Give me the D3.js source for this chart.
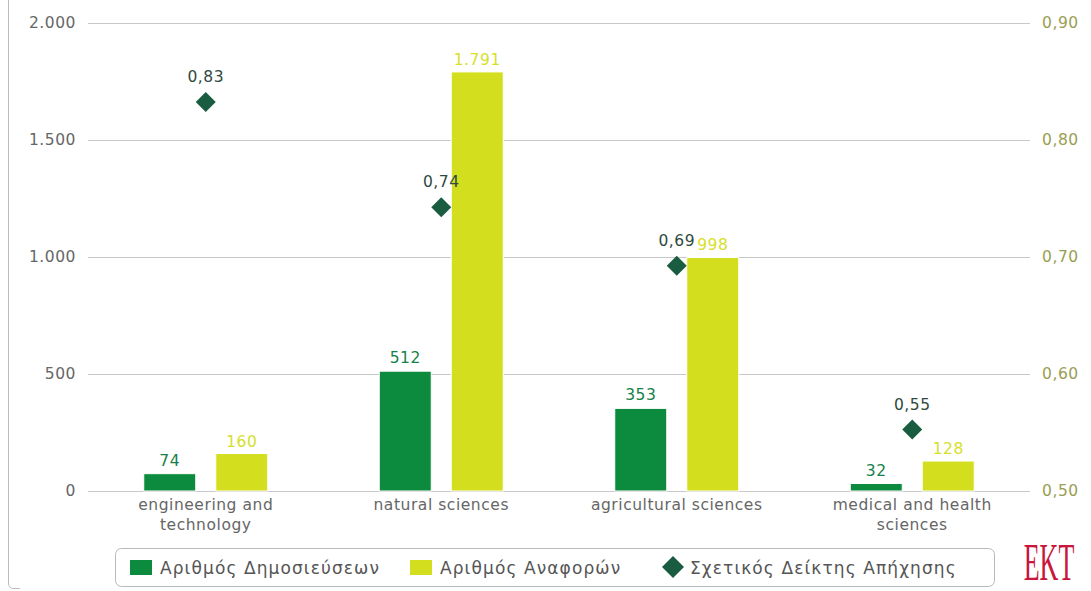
<!DOCTYPE html>
<html><head><meta charset="utf-8">
<script src="https://cdn.jsdelivr.net/npm/d3@7"></script>
<style>body{margin:0;background:#fff;}svg{display:block;font-family:"DejaVu Sans",Verdana,sans-serif;}</style>
</head><body><svg id="c" width="1091" height="591"></svg>
<script>
const categories = [["engineering and","technology"],["natural sciences"],["agricultural sciences"],["medical and health","sciences"]];
const publications = [74, 512, 353, 32];
const citations = [160, 1791, 998, 128];
const relIndex = [0.83, 0.74, 0.69, 0.55];
const leftTicks = [0, 500, 1000, 1500, 2000];
const rightTicks = [0.5, 0.6, 0.7, 0.8, 0.9];
const seriesNames = ["Αριθμός Δημοσιεύσεων","Αριθμός Αναφορών","Σχετικός Δείκτης Απήχησης"];

const C_DARK = "#0c8a3e", C_LIGHT = "#d3df1e", C_DIAM = "#1a5c40", C_GRAY = "#666";
const FS = "15.5px", LS = "0.55px";
const svg = d3.select("#c");
const L = 88, R = 1030, T = 23, B = 491;
const x = d3.scaleBand().domain(d3.range(categories.length)).range([L, R]);
const yL = d3.scaleLinear().domain([0, 2000]).range([B, T]);
const yR = d3.scaleLinear().domain([0.5, 0.9]).range([B, T]);
const fmtL = d => d3.format(",")(d).replace(/,/g, ".");
const fmtR = d => d3.format(".2f")(d).replace(".", ",");

// frame line at left
svg.append("path").attr("d","M8.5,0 V583 Q8.5,588.5 14,588.5 H20").attr("fill","none").attr("stroke","#bbb");

// gridlines
svg.append("g").selectAll("line").data(leftTicks).join("line")
  .attr("x1", L).attr("x2", R).attr("y1", d => Math.round(yL(d))+0.5).attr("y2", d => Math.round(yL(d))+0.5)
  .attr("stroke", "#c8c8c8").attr("stroke-width",1);

// left axis
const gl = svg.append("g").attr("transform", `translate(${L},0)`)
  .call(d3.axisLeft(yL).tickValues(leftTicks).tickFormat(fmtL).tickSize(0).tickPadding(12));
gl.select(".domain").remove();
gl.selectAll("text").attr("fill", C_GRAY).style("font-size",FS).style("letter-spacing",LS).style("font-family","DejaVu Sans");

// right axis
const gr = svg.append("g").attr("transform", `translate(${R},0)`)
  .call(d3.axisRight(yR).tickValues(rightTicks).tickFormat(fmtR).tickSize(0).tickPadding(12));
gr.select(".domain").remove();
gr.selectAll("text").attr("fill", "#9a9e52").style("font-size",FS).style("letter-spacing",LS).style("font-family","DejaVu Sans");

// x category labels
const cx = i => x(i) + x.bandwidth()/2;
const xl = svg.append("g");
categories.forEach((lines, i) => {
  const t = xl.append("text").attr("x", cx(i)).attr("y", 510).attr("text-anchor","middle")
    .attr("fill", C_GRAY).style("font-size",FS).style("letter-spacing",LS);
  lines.forEach((ln, j) => t.append("tspan").attr("x", cx(i)).attr("dy", j ? 20 : 0).text(ln));
});

// bars
const bw = 52, off = 36;
const bars = svg.append("g");
bars.selectAll("rect.p").data(publications).join("rect").attr("class","p")
  .attr("x", (d,i) => cx(i) - off - bw/2).attr("width", bw)
  .attr("y", d => yL(d)).attr("height", d => B - yL(d))
  .attr("fill", C_DARK).attr("stroke","#fff").attr("stroke-width",1);
bars.selectAll("rect.c").data(citations).join("rect").attr("class","c")
  .attr("x", (d,i) => cx(i) + off - bw/2).attr("width", bw)
  .attr("y", d => yL(d)).attr("height", d => B - yL(d))
  .attr("fill", C_LIGHT).attr("stroke","#fff").attr("stroke-width",1);

// bar labels
bars.selectAll("text.p").data(publications).join("text").attr("class","p")
  .attr("x", (d,i) => cx(i) - off).attr("y", d => yL(d) - 8).attr("text-anchor","middle")
  .attr("fill", "#17804a").style("font-size",FS).style("letter-spacing",LS).text(fmtL);
bars.selectAll("text.c").data(citations).join("text").attr("class","c")
  .attr("x", (d,i) => cx(i) + off).attr("y", d => yL(d) - 7).attr("text-anchor","middle")
  .attr("fill", "#d6e02a").style("font-size",FS).style("letter-spacing",LS).text(fmtL);

// diamonds
const ds = 10;
const dg = svg.append("g");
dg.selectAll("path").data(relIndex).join("path")
  .attr("d", (d,i) => { const px = cx(i), py = yR(d) - 3; return `M${px},${py-ds} L${px+ds},${py} L${px},${py+ds} L${px-ds},${py} Z`; })
  .attr("fill", C_DIAM);
dg.selectAll("text").data(relIndex).join("text")
  .attr("x", (d,i) => cx(i)).attr("y", d => yR(d) - 23).attr("text-anchor","middle")
  .attr("fill", "#2f4a40").style("font-size",FS).style("letter-spacing",LS).text(fmtR);

// legend
const lg = svg.append("g");
lg.append("rect").attr("x",115.5).attr("y",548.5).attr("width",879).attr("height",38).attr("rx",6)
  .attr("fill","#fff").attr("stroke","#b8b8b8");
const items = [{x:130, type:"rect", color:C_DARK},{x:410, type:"rect", color:C_LIGHT},{x:662, type:"diamond", color:C_DIAM}];
items.forEach((it, i) => {
  if (it.type === "rect") lg.append("rect").attr("x", it.x).attr("y", 560).attr("width", 22).attr("height", 15).attr("fill", it.color);
  else lg.append("path").attr("d", `M${it.x+11},${556} L${it.x+22},${567} L${it.x+11},${578} L${it.x},${567} Z`).attr("fill", it.color);
  lg.append("text").attr("x", i === 2 ? it.x + 28 : it.x + 30).attr("y", 574).attr("fill", "#555")
    .style("font-size","17px").style("letter-spacing","1.1px").text(seriesNames[i]);
});

// logo
const logo = svg.append("g").attr("transform","translate(1049,580) scale(0.5,1)");
logo.append("text").attr("x",0).attr("y",0).attr("text-anchor","middle")
  .style("font-family","Liberation Serif").style("font-size","52px").attr("fill","#c8163c").text("EKT");
</script></body></html>
